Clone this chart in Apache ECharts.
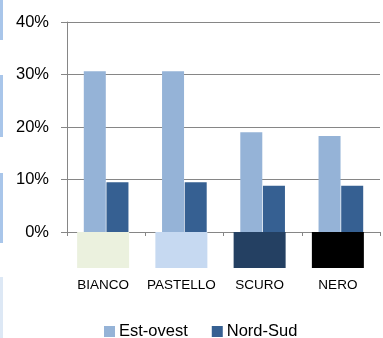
<!DOCTYPE html>
<html><head><meta charset="utf-8">
<script src="https://cdn.jsdelivr.net/npm/echarts@6/dist/echarts.min.js"></script>
<style>html,body{margin:0;padding:0;background:#fff}#c{width:383px;height:338px}</style>
</head><body><div id="c"></div>
<script>
var categories = ['BIANCO', 'PASTELLO', 'SCURO', 'NERO'];
var swatchColors = ['#ebf1de', '#c6d9f1', '#244062', '#000000'];
var estOvest = [30.6, 30.6, 19.0, 18.3];
var nordSud = [9.5, 9.5, 8.8, 8.8];
var yTicks = [0, 10, 20, 30, 40];

var rich = { name: { fontSize: 13.5, fontFamily: 'Liberation Sans', color: '#000', lineHeight: 34 } };
swatchColors.forEach(function (c, i) {
  rich['sw' + i] = { width: 52, height: 36, backgroundColor: c };
});

var chart = echarts.init(document.getElementById('c'), null, { renderer: 'canvas' });
chart.setOption({
  animation: false,
  textStyle: { fontFamily: 'Liberation Sans' },
  grid: { left: 67, right: 3, top: 22, bottom: 106, containLabel: false },
  legend: {
    data: ['Est-ovest', 'Nord-Sud'],
    left: 99, top: 318,
    itemWidth: 11, itemHeight: 11, itemGap: 24,
    icon: 'rect',
    textStyle: { fontSize: 16.5, color: '#000', fontFamily: 'Liberation Sans', padding: [0, 0, 0, -1] }
  },
  xAxis: {
    type: 'category', data: categories,
    axisLine: { lineStyle: { color: '#868686', width: 1 } },
    axisTick: { show: true, length: 4, lineStyle: { color: '#868686' } },
    axisLabel: {
      margin: 0, interval: 0, padding: [0, 6, 0, 0],
      formatter: function (v, i) { return '{sw' + i + '|}\n{name|' + v + '}'; },
      rich: rich
    }
  },
  yAxis: {
    type: 'value', min: yTicks[0], max: yTicks[yTicks.length - 1], interval: 10,
    axisLine: { show: true, lineStyle: { color: '#868686', width: 1 } },
    axisTick: { show: true, length: 6, lineStyle: { color: '#868686' } },
    splitLine: { show: true, lineStyle: { color: '#868686', width: 1 } },
    axisLabel: { formatter: '{value}%', fontSize: 16.5, color: '#000', margin: 18, fontFamily: 'Liberation Sans' }
  },
  series: [
    { name: 'Est-ovest', type: 'bar', data: estOvest, barWidth: 22, barGap: '3%', itemStyle: { color: '#95b3d7' } },
    { name: 'Nord-Sud', type: 'bar', data: nordSud, barWidth: 22, itemStyle: { color: '#366092' } }
  ],
  graphic: [
    { type: 'rect', shape: { x: 0, y: 0, width: 3, height: 40 }, style: { fill: '#a9c6ea' }, silent: true },
    { type: 'rect', shape: { x: 0, y: 75, width: 3, height: 62 }, style: { fill: '#a9c6ea' }, silent: true },
    { type: 'rect', shape: { x: 0, y: 173, width: 3, height: 70 }, style: { fill: '#a9c6ea' }, silent: true },
    { type: 'rect', shape: { x: 0, y: 277, width: 3, height: 61 }, style: { fill: '#dde8f5' }, silent: true }
  ]
});
</script></body></html>
